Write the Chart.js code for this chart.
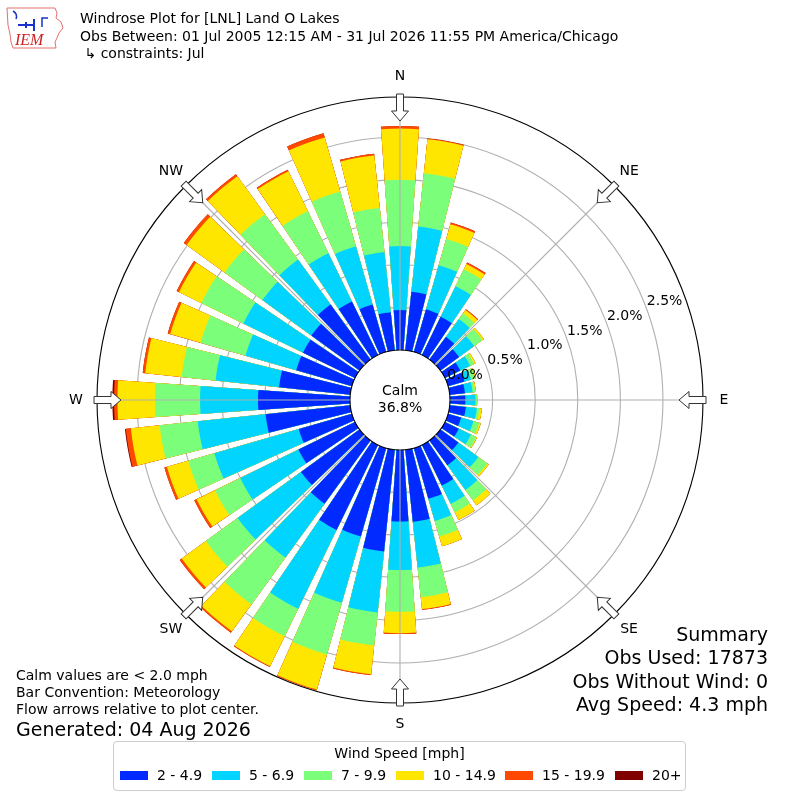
<!DOCTYPE html>
<html>
<head>
<meta charset="utf-8">
<script src="https://cdn.jsdelivr.net/npm/chart.js@4.4.1/dist/chart.umd.min.js"></script>
<style>
  body { margin: 0; background: #fff; }
  #wrap { position: relative; width: 800px; height: 800px; overflow: hidden; font-family: "DejaVu Sans", sans-serif; color: #000; }
  #rose { position: absolute; left: 0; top: 0; }
  .txt { position: absolute; white-space: nowrap; }
  #legend { position: absolute; left: 113px; top: 741px; width: 573px; height: 50px; border: 1px solid #cccccc; border-radius: 4px; box-sizing: border-box; }
  .sw { position: absolute; width: 28px; height: 9px; }
</style>
</head>
<body>
<div id="wrap">
  <canvas id="rose" width="800" height="800"></canvas>

  <svg style="position:absolute;left:4px;top:5px" width="62" height="46" viewBox="0 0 62 46">
    <path d="M3,3 L51,3 L53,8 L52,13 L57,17 L59,23 L55,28 L53,33 L51,37 L52,43 L9,43 L7,37 L6,29 L4,20 Z" fill="none" stroke="#e07070" stroke-width="1"/>
    <path d="M14,20 L30,20 M30,14 L30,26 M22,17 L22,23" stroke="#1a33cc" stroke-width="2" fill="none"/>
    <path d="M9,6 Q14,9 12,14 M44,13 L38,13 L38,22" stroke="#1a33cc" stroke-width="1.5" fill="none"/>
    <text x="11" y="40" font-family="Liberation Serif" font-style="italic" font-size="16" fill="#d02020">IEM</text>
  </svg>

  <div class="txt" style="left:80px;top:10px;font-size:14px;line-height:17.5px;">
    Windrose Plot for [LNL] Land O Lakes<br>
    Obs Between: 01 Jul 2005 12:15 AM - 31 Jul 2026 11:55 PM America/Chicago<br>
    &nbsp;↳ constraints: Jul
  </div>

  <div class="txt" style="left:16px;top:667px;font-size:14px;line-height:17px;">
    Calm values are &lt; 2.0 mph<br>
    Bar Convention: Meteorology<br>
    Flow arrows relative to plot center.
  </div>
  <div class="txt" style="left:16px;top:718px;font-size:19px;line-height:22px;">Generated: 04 Aug 2026</div>

  <div class="txt" style="right:32px;top:623px;font-size:19px;line-height:23.3px;text-align:right;">
    Summary<br>
    Obs Used: 17873<br>
    Obs Without Wind: 0<br>
    Avg Speed: 4.3 mph
  </div>

  <div id="legend"></div>
</div>

<script>
// wind directions (degrees, meteorological) and percent of obs per speed bin
const directions = [0, 10, 20, 30, 40, 50, 60, 70, 80, 90, 100, 110, 120, 130, 140, 150, 160, 170,
                    180, 190, 200, 210, 220, 230, 240, 250, 260, 270, 280, 290, 300, 310, 320, 330, 340, 350];
const compassPoints = ['N', 'NE', 'E', 'SE', 'S', 'SW', 'W', 'NW'];
const speedBins = ['2 - 4.9', '5 - 6.9', '7 - 9.9', '10 - 14.9', '15 - 19.9', '20+'];
const binColors = ['#002aff', '#00d4ff', '#7bff7b', '#ffe600', '#ff4800', '#800000'];
const radialTicks = [0, 0.5, 1.0, 1.5, 2.0, 2.5];
const calmPercent = 36.8;

const freq2to5 = [0.47, 0.69, 0.52, 0.50, 0.33, 0.27, 0.20, 0.20, 0.18, 0.18, 0.19, 0.16, 0.18, 0.26, 0.36, 0.53, 0.62, 0.85,
                  0.84, 1.20, 1.08, 1.11, 0.92, 0.85, 0.74, 0.65, 1.00, 1.08, 0.84, 0.68, 0.68, 0.70, 0.80, 0.70, 0.58, 0.45];
const freq5to7 = [0.75, 0.77, 0.54, 0.40, 0.26, 0.22, 0.13, 0.08, 0.09, 0.12, 0.13, 0.15, 0.16, 0.29, 0.36, 0.24, 0.27, 0.54,
                  0.57, 0.72, 0.81, 1.03, 0.78, 0.92, 0.76, 1.03, 0.80, 0.68, 0.75, 0.62, 0.78, 0.71, 0.65, 0.63, 0.71, 0.71];
const freq7to10 = [0.78, 0.63, 0.32, 0.22, 0.08, 0.12, 0.05, 0.05, 0.03, 0.02, 0.03, 0.07, 0.07, 0.13, 0.15, 0.11, 0.19, 0.35,
                   0.49, 0.39, 0.63, 0.36, 0.68, 0.46, 0.33, 0.32, 0.45, 0.53, 0.40, 0.55, 0.55, 0.55, 0.66, 0.55, 0.67, 0.52];
const freq10to15 = [0.60, 0.40, 0.18, 0.07, 0.05, 0.02, 0.02, 0.01, 0.01, 0.00, 0.03, 0.02, 0.01, 0.02, 0.07, 0.10, 0.12, 0.14,
                    0.25, 0.34, 0.43, 0.39, 0.39, 0.35, 0.24, 0.26, 0.34, 0.44, 0.43, 0.37, 0.29, 0.55, 0.55, 0.52, 0.66, 0.62];
const freq15to20 = [0.03, 0.01, 0.02, 0.02, 0.01, 0, 0, 0, 0, 0, 0, 0, 0, 0, 0, 0, 0, 0.01,
                    0.01, 0.01, 0.01, 0.01, 0.02, 0.03, 0.03, 0.03, 0.06, 0.04, 0.03, 0.03, 0.03, 0.04, 0.03, 0.02, 0.05, 0.02];
const freq20up = [0, 0, 0, 0, 0, 0, 0, 0, 0, 0, 0, 0, 0, 0, 0, 0, 0, 0,
                  0, 0, 0, 0, 0, 0, 0, 0, 0.01, 0.02, 0, 0, 0, 0, 0, 0, 0, 0];

const speedSeries = [freq2to5, freq5to7, freq7to10, freq10to15, freq15to20, freq20up];

// radial axis: 0% sits on the calm circle, outer ring just past the longest bar
const R_MAX = 2.97;
const R_MIN = -0.587;
const BAR_DEG = 8;
const GAP_DEG = 2;

// each direction gets a bar slot and a gap slot
let slotLabels = [];
directions.forEach(d => { slotLabels.push('d' + d); slotLabels.push('gap' + d); });

let datasets = speedSeries.map((series, b) => {
    let data = [];
    directions.forEach((d, k) => {
        let total = 0;
        for (let j = 0; j <= b; j++) total += speedSeries[j][k];
        data.push(total);
        data.push(R_MIN);
    });
    return {
        label: speedBins[b],
        data: data,
        backgroundColor: binColors[b],
        borderWidth: 0,
        angle: ctx => (ctx.dataIndex % 2 === 0 ? BAR_DEG : GAP_DEG)
    };
});

const roseDecor = {
    id: 'roseDecor',
    afterDatasetsDraw(chart) {
        const s = chart.scales.r;
        const ctx = chart.ctx;
        ctx.save();
        ctx.beginPath();
        ctx.arc(s.xCenter, s.yCenter, s.getDistanceFromCenterForValue(0), 0, Math.PI * 2);
        ctx.fillStyle = '#fff';
        ctx.fill();
        ctx.lineWidth = 1.1;
        ctx.strokeStyle = '#000';
        ctx.stroke();
        ctx.restore();
    },
    afterDraw(chart) {
        const s = chart.scales.r;
        const ctx = chart.ctx;
        const cx = s.xCenter, cy = s.yCenter;
        const r0 = s.getDistanceFromCenterForValue(0);
        const rOut = s.getDistanceFromCenterForValue(R_MAX);
        ctx.save();

        // spokes every 45 degrees
        ctx.strokeStyle = '#b0b0b0';
        ctx.lineWidth = 1.1;
        compassPoints.forEach((p, i) => {
            const a = i * 45 * Math.PI / 180;
            ctx.beginPath();
            ctx.moveTo(cx + r0 * Math.sin(a), cy - r0 * Math.cos(a));
            ctx.lineTo(cx + rOut * Math.sin(a), cy - rOut * Math.cos(a));
            ctx.stroke();
        });

        // percent labels
        ctx.fillStyle = '#000';
        ctx.font = '14px "DejaVu Sans"';
        ctx.textAlign = 'center';
        ctx.textBaseline = 'middle';
        const la = 69.5 * Math.PI / 180;
        radialTicks.forEach(v => {
            const r = s.getDistanceFromCenterForValue(v) + 19.5;
            ctx.fillText(v.toFixed(1) + '%', cx + r * Math.sin(la), cy - r * Math.cos(la));
        });

        // compass arrows and names
        compassPoints.forEach((p, i) => {
            const a = i * 45 * Math.PI / 180;
            ctx.save();
            ctx.translate(cx, cy);
            ctx.rotate(a);
            ctx.beginPath();
            ctx.moveTo(-3.5, -306);
            ctx.lineTo(3.5, -306);
            ctx.lineTo(3.5, -289);
            ctx.lineTo(8.5, -289);
            ctx.lineTo(0, -279);
            ctx.lineTo(-8.5, -289);
            ctx.lineTo(-3.5, -289);
            ctx.closePath();
            ctx.fillStyle = '#fff';
            ctx.fill();
            ctx.lineWidth = 1;
            ctx.strokeStyle = '#333';
            ctx.stroke();
            ctx.restore();
            ctx.fillStyle = '#000';
            ctx.fillText(p, cx + 324 * Math.sin(a), cy - 324 * Math.cos(a));
        });

        // calm
        ctx.fillText('Calm', cx, cy - 8.5);
        ctx.fillText(calmPercent.toFixed(1) + '%', cx, cy + 8.5);
        ctx.restore();
    }
};

new Chart(document.getElementById('rose'), {
    type: 'polarArea',
    data: { labels: slotLabels, datasets: datasets },
    options: {
        responsive: false,
        animation: false,
        events: [],
        layout: { padding: { left: 97, right: 97, top: 97, bottom: 97 } },
        plugins: { legend: { display: false }, tooltip: { enabled: false } },
        scales: {
            r: {
                min: R_MIN,
                max: R_MAX,
                startAngle: -BAR_DEG / 2,
                ticks: { display: false, z: 1 },
                afterBuildTicks: axis => {
                    axis.ticks = radialTicks.concat([R_MAX]).map(v => ({ value: v }));
                },
                grid: {
                    circular: true,
                    color: ctx => {
                        if (ctx.tick.value === R_MAX) return '#000';
                        if (ctx.tick.value === 0) return 'rgba(0,0,0,0)';
                        return '#b0b0b0';
                    },
                    lineWidth: 1.1
                },
                angleLines: { display: false },
                pointLabels: { display: false }
            }
        }
    },
    plugins: [roseDecor]
});

// legend box
const legend = document.getElementById('legend');
let title = document.createElement('div');
title.className = 'txt';
title.style.cssText = 'left:0;width:100%;text-align:center;top:1px;font-size:14px;line-height:20px;';
title.textContent = 'Wind Speed [mph]';
legend.appendChild(title);
const swatchX = [6, 98, 190, 282, 391, 501];
speedBins.forEach((lab, i) => {
    let sw = document.createElement('div');
    sw.className = 'sw';
    sw.style.left = swatchX[i] + 'px';
    sw.style.top = '29px';
    sw.style.background = binColors[i];
    legend.appendChild(sw);
    let t = document.createElement('div');
    t.className = 'txt';
    t.style.cssText = 'top:23px;font-size:14px;line-height:20px;left:' + (swatchX[i] + 37) + 'px;';
    t.textContent = lab;
    legend.appendChild(t);
});
</script>
</body>
</html>
